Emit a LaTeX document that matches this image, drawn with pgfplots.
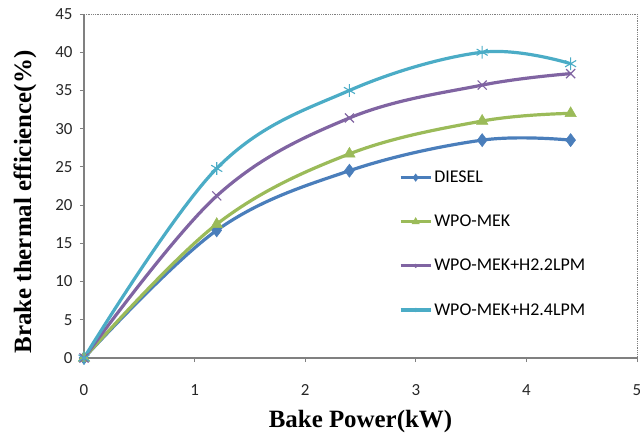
\documentclass[border=0pt]{standalone}
\usepackage{pgfplots}
\pgfplotsset{compat=1.18}
\usepackage{fontspec}
\setmainfont{Carlito}
\newfontfamily\labfont{Liberation Serif}
\definecolor{cDiesel}{HTML}{4A7EBB}
\definecolor{cMek}{HTML}{9BBB59}
\definecolor{cH22}{HTML}{8064A2}
\definecolor{cH24}{HTML}{4BACC6}
\definecolor{axgray}{HTML}{808080}
\begin{document}
\begin{tikzpicture}
\begin{axis}[
  scale only axis, width=553bp, height=344bp,
  xmin=0, xmax=5, ymin=0, ymax=45,
  xtick={0,1,2,3,4,5}, ytick={0,5,...,45},
  axis x line*=bottom, axis y line*=left,
  axis line style={axgray, line width=1.4bp, -},
  tick align=outside, tick style={axgray, line width=0.8bp},
  major tick length=4bp,
  /pgf/number format/assume math mode=true,
  ticklabel style={font=\fontsize{17}{19}\selectfont, text=black!85},
  xticklabel style={yshift=-19bp},
  yticklabel style={xshift=-4bp},
  xlabel={\labfont\bfseries Bake Power(kW)},
  ylabel={\labfont\bfseries Brake thermal efficience(\%)},
  label style={font=\fontsize{25}{27}\selectfont},
  xlabel style={yshift=-8bp},
  ylabel style={yshift=12bp, xshift=-16bp},
  legend style={at={(axis cs:2.82,25.0)}, anchor=north west, draw=none, fill=none,
     font=\fontsize{18}{20}\selectfont, row sep=27bp},
  legend cell align=left,
  legend image code/.code={\draw[#1, mark repeat=2, mark phase=2, mark options={scale=0.75}] plot coordinates {(0bp,0bp) (15bp,0bp) (30bp,0bp)};},
  every axis plot/.append style={line width=3.2bp, smooth, tension=0.6},
  clip=false,
]
\addplot[cDiesel, mark=diamond*, mark options={solid, scale=3.3, line width=0.5bp}] coordinates {
 (0,0) (1.2,16.7) (2.4,24.5) (3.6,28.5) (4.4,28.5)};
\addlegendentry{DIESEL}
\addplot[cMek, mark=triangle*, mark options={solid, scale=3.3, line width=0.5bp}] coordinates {
 (0,0) (1.2,17.5) (2.4,26.7) (3.6,31.0) (4.4,32.0)};
\addlegendentry{WPO-MEK}
\addplot[cH22, mark=x, mark options={solid, scale=3.2, line width=1.1bp}] coordinates {
 (0,0) (1.2,21.2) (2.4,31.4) (3.6,35.7) (4.4,37.2)};
\addlegendentry{WPO-MEK+H2.2LPM}
\addplot[cH24, mark=asterisk, mark options={solid, scale=3.2, line width=1.1bp}] coordinates {
 (0,0) (1.2,24.8) (2.4,35.0) (3.6,40.0) (4.4,38.5)};
\addlegendentry{WPO-MEK+H2.4LPM}
\draw[axgray, densely dotted, line width=0.8bp] (rel axis cs:0,1) -- (rel axis cs:1,1) -- (rel axis cs:1,0);
\end{axis}
\pgfresetboundingbox
\path ([shift={(-84bp,-84bp)}]current axis.south west) rectangle ([shift={(3bp,14bp)}]current axis.north east);
\end{tikzpicture}
\end{document}
